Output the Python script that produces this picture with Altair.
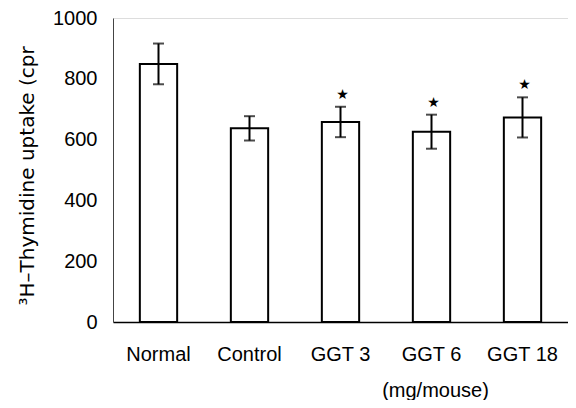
import altair as alt
import pandas as pd

categories = ["Normal", "Control", "GGT 3", "GGT 6", "GGT 18"]
means = [849, 637, 658, 626, 673]
errors = [67, 40, 50, 56, 66]
significant = [False, False, True, True, True]

df = pd.DataFrame({
    "group": categories,
    "mean": means,
    "err": errors,
    "sig": significant,
})
df["lo"] = df["mean"] - df["err"]
df["hi"] = df["mean"] + df["err"]
df["star"] = ["★" if s else "" for s in df["sig"]]

xscale = alt.Scale(domain=categories, paddingInner=0.59, paddingOuter=0.295)
x = alt.X("group:N", scale=xscale, sort=categories,
          axis=alt.Axis(title="(mg/mouse)", labelAngle=0, ticks=False,
                        labelPadding=22, labelFont="Liberation Sans",
                        labelFontSize=20, labelColor="black",
                        domainColor="black", domainWidth=1.5,
                        titleFont="Liberation Sans", titleFontSize=20,
                        titleFontWeight="normal", titleColor="black",
                        titleX=322, titleY=74, titleAlign="center",
                        titleBaseline="alphabetic"))
yscale = alt.Scale(domain=[0, 1000], nice=False)

bars = alt.Chart(df).mark_bar(fill="white", stroke="black", strokeWidth=2).encode(
    x=x,
    y=alt.Y("mean:Q", scale=yscale,
            axis=alt.Axis(title="³H–Thymidine uptake (cpr", values=[0, 200, 400, 600, 800, 1000],
                          format="d",
                          ticks=False, grid=False, labelPadding=16,
                          labelFont="Liberation Sans", labelFontSize=20,
                          labelColor="black", domainColor="#444", domainWidth=1,
                          titleFont="DejaVu Sans", titleFontSize=20,
                          titleFontWeight="normal", titleColor="black",
                          titleAngle=-90, titleAlign="left", titleBaseline="alphabetic",
                          titleX=-80, titleY=287)),
)

rules = alt.Chart(df).mark_rule(color="black", strokeWidth=2).encode(
    x=alt.X("group:N", scale=xscale, sort=categories),
    y=alt.Y("lo:Q", scale=yscale),
    y2="hi:Q",
)

caps_lo = alt.Chart(df).mark_tick(color="black", thickness=2, size=11).encode(
    x=alt.X("group:N", scale=xscale, sort=categories),
    y=alt.Y("lo:Q", scale=yscale),
)
caps_hi = alt.Chart(df).mark_tick(color="black", thickness=2, size=11).encode(
    x=alt.X("group:N", scale=xscale, sort=categories),
    y=alt.Y("hi:Q", scale=yscale),
)

stars = alt.Chart(df).mark_text(color="black", fontSize=14, dy=-12, dx=2,
                                font="DejaVu Sans").encode(
    x=alt.X("group:N", scale=xscale, sort=categories),
    y=alt.Y("hi:Q", scale=yscale),
    text="star:N",
)

chart = alt.layer(bars, rules, caps_lo, caps_hi, stars).properties(
    width=455, height=304,
    autosize=alt.AutoSizeParams(type="none"),
    padding={"left": 105, "top": 10, "right": 0, "bottom": 78},
).configure_view(stroke="#888", strokeWidth=1).configure(background="white")

chart.save("out.html", embed_options={"renderer": "svg", "actions": False})
